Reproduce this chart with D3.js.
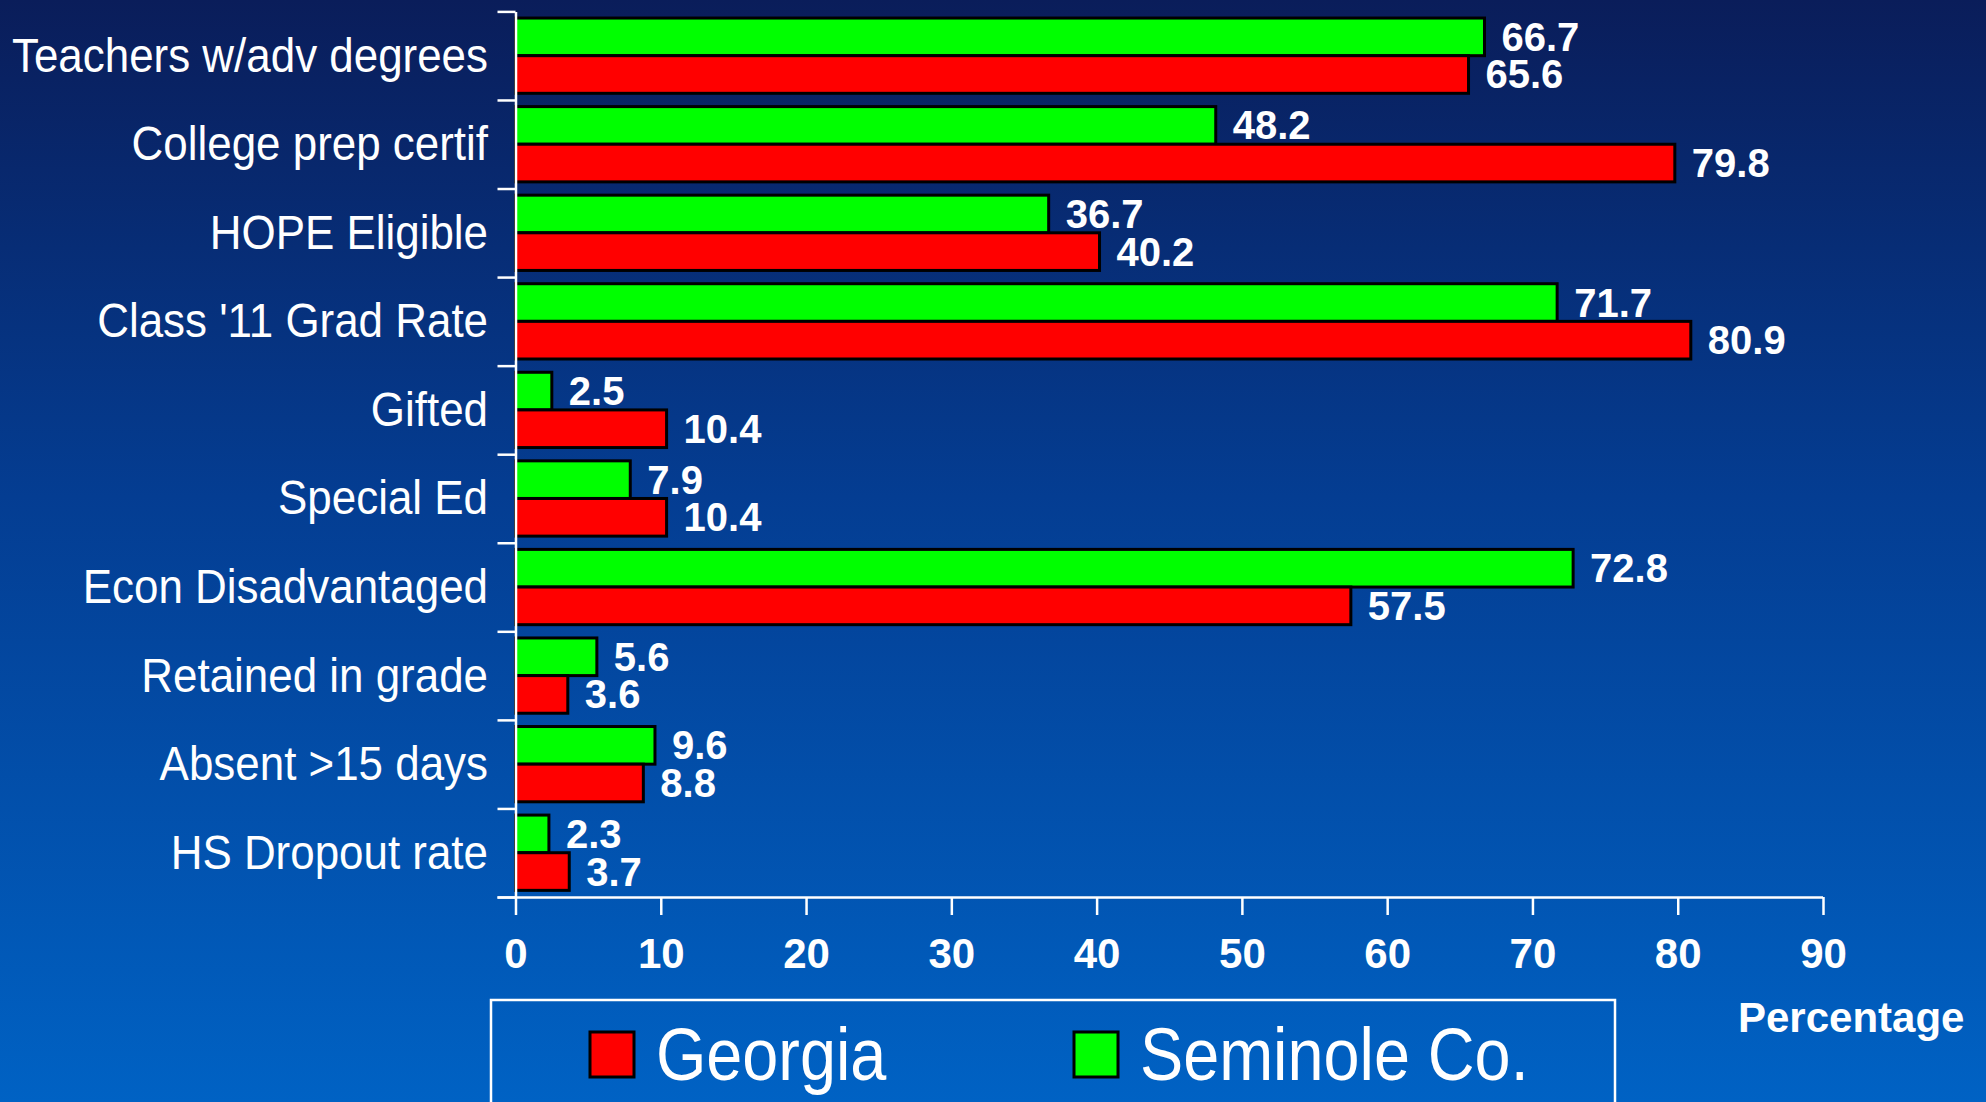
<!DOCTYPE html>
<html>
<head>
<meta charset="utf-8">
<script src="https://cdn.jsdelivr.net/npm/d3@7"></script>
<style>
html,body{margin:0;padding:0;overflow:hidden;background:#0a1e5c;}
svg{display:block;}
text{font-family:"Liberation Sans",Arial,sans-serif;fill:#fff;}
</style>
</head>
<body>
<script>
const categories = ["Teachers w/adv degrees","College prep certif","HOPE Eligible","Class '11 Grad Rate","Gifted","Special Ed","Econ Disadvantaged","Retained in grade","Absent >15 days","HS Dropout rate"];
const seminole = [66.7,48.2,36.7,71.7,2.5,7.9,72.8,5.6,9.6,2.3];
const georgia  = [65.6,79.8,40.2,80.9,10.4,10.4,57.5,3.6,8.8,3.7];
const seriesNames = ["Seminole Co.","Georgia"];
const seriesColors = ["#00ff00","#ff0000"];
const legendOrder = ["Georgia","Seminole Co."];
const xTicks = [0,10,20,30,40,50,60,70,80,90];
const xTitle = "Percentage";

(function(){
const W = 1986, H = 1102;
const svg = d3.select("body").append("svg").attr("width", W).attr("height", H);

const defs = svg.append("defs");
const grad = defs.append("linearGradient").attr("id","bg").attr("x1",0).attr("y1",0).attr("x2",0).attr("y2",1);
grad.append("stop").attr("offset","0%").attr("stop-color","#0a1d5a");
grad.append("stop").attr("offset","45%").attr("stop-color","#043d92");
grad.append("stop").attr("offset","100%").attr("stop-color","#0062c4");
svg.append("rect").attr("width",W).attr("height",H).attr("fill","url(#bg)");

const pLeft = 515.5, pRight = 1823, pTop = 11.4, pBottom = 897;
const x = d3.scaleLinear().domain([0,90]).range([pLeft,pRight]);
const y = d3.scaleBand().domain(categories).range([pTop,pBottom]).paddingInner(0.15).paddingOuter(0.075);
const sub = d3.scaleBand().domain(seriesNames).range([0,y.bandwidth()]).padding(0);
const yEdges = d3.scaleLinear().domain([0,categories.length]).range([pTop,pBottom]);

const data = categories.map((c,i)=>({cat:c, values:[{s:seriesNames[0],v:seminole[i]},{s:seriesNames[1],v:georgia[i]}]}));
const color = d3.scaleOrdinal().domain(seriesNames).range(seriesColors);

// bars
const groups = svg.append("g").selectAll("g").data(data).join("g")
  .attr("transform", d=>`translate(0,${y(d.cat)})`);
groups.selectAll("rect").data(d=>d.values).join("rect")
  .attr("x", x(0))
  .attr("y", d=>sub(d.s))
  .attr("width", d=>x(d.v)-x(0))
  .attr("height", sub.bandwidth())
  .attr("fill", d=>color(d.s))
  .attr("stroke","#000").attr("stroke-width",3);
groups.selectAll("text.val").data(d=>d.values).join("text").attr("class","val")
  .attr("x", d=>x(d.v)+17)
  .attr("y", d=>sub(d.s)+sub.bandwidth()/2+14)
  .attr("font-size",40).attr("font-weight","bold")
  .text(d=>d.v.toFixed(1));

// y axis (category boundaries)
const yAxis = svg.append("g").attr("transform",`translate(${pLeft},0)`)
  .call(d3.axisLeft(yEdges).tickValues(d3.range(categories.length+1)).tickSize(18).tickSizeOuter(0).tickFormat(""));
yAxis.selectAll("path,line").attr("stroke","#fff").attr("stroke-width",2.5);

// category labels
svg.append("g").selectAll("g").data(categories).join("g")
  .attr("transform", d=>`translate(488,${y(d)+y.bandwidth()/2+16}) scale(0.915,1)`)
  .append("text").attr("text-anchor","end").attr("font-size",48).text(d=>d);

// x axis
const xAxis = svg.append("g").attr("transform",`translate(0,${pBottom})`)
  .call(d3.axisBottom(x).tickValues(xTicks).tickSize(18).tickSizeOuter(0).tickFormat(d3.format("d")));
xAxis.selectAll("path,line").attr("stroke","#fff").attr("stroke-width",2.5);
xAxis.select("path.domain").attr("d",`M${pLeft-18},0.5H${pRight}`);
xAxis.selectAll("text").attr("y",71).attr("dy",0).attr("fill","#fff")
  .attr("font-size",42).attr("font-weight","bold").attr("font-family","'Liberation Sans',Arial,sans-serif");

svg.append("text").attr("x",1738).attr("y",1032).attr("font-size",42).attr("font-weight","bold").text(xTitle);

// legend
svg.append("rect").attr("x",491).attr("y",1000).attr("width",1124).attr("height",140)
  .attr("fill","none").attr("stroke","#fff").attr("stroke-width",2.5);
const legX = d3.scalePoint().domain(legendOrder).range([590,1074]);
const lg = svg.append("g").selectAll("g").data(legendOrder).join("g")
  .attr("transform", d=>`translate(${legX(d)},1032)`);
lg.append("rect").attr("width",44).attr("height",45).attr("fill",d=>color(d))
  .attr("stroke","#000").attr("stroke-width",3);
lg.append("g").attr("transform","translate(66,48) scale(0.875,1)")
  .append("text").attr("font-size",74).text(d=>d);
})();
</script>
</body>
</html>
